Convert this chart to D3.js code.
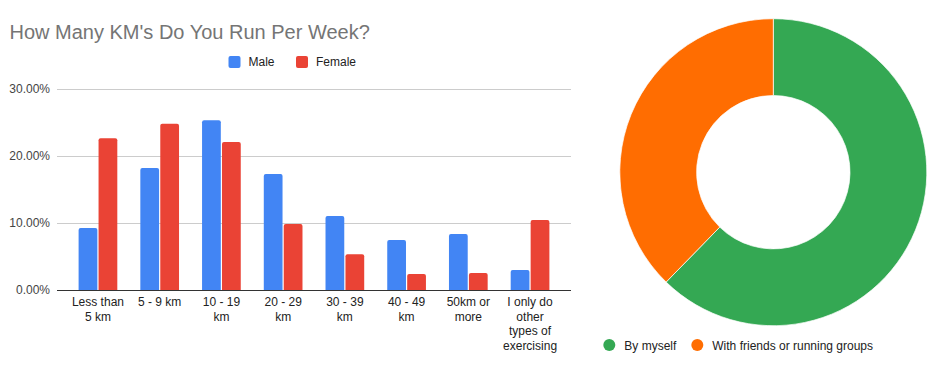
<!DOCTYPE html>
<html>
<head>
<meta charset="utf-8">
<script src="https://cdn.jsdelivr.net/npm/d3@7"></script>
<style>
  body { margin: 0; background: #fff; }
  svg { font-family: 'Liberation Sans', Arial, sans-serif; }
</style>
</head>
<body>
<svg width="935" height="371"></svg>
<script>
const categories = ['Less than 5 km', '5 - 9 km', '10 - 19 km', '20 - 29 km',
  '30 - 39 km', '40 - 49 km', '50km or more', 'I only do other types of exercising']
const series = ['Male', 'Female']
const male = [9.25, 18.2, 25.35, 17.3, 11.05, 7.45, 8.35, 3.0]
const female = [22.65, 24.8, 22.1, 9.85, 5.35, 2.4, 2.55, 10.45]
const yTicks = [0, 10, 20, 30]

const groups = ['By myself', 'With friends or running groups']
const groupValues = [62.3, 37.7]

const barColors = ['#4285f4', '#ea4335']
const pieColors = ['#34a853', '#ff6d01']

const svg = d3.select('svg')

drawBarChart()
drawDonut()

function drawBarChart () {
  const plot = { left: 57, right: 571, top: 89, bottom: 290 }

  svg.append('text')
    .attr('x', 9.5)
    .attr('y', 38.5)
    .attr('fill', '#757575')
    .attr('font-size', 20)
    .text("How Many KM's Do You Run Per Week?")

  const x = d3.scaleBand()
    .domain(categories)
    .range([plot.left, plot.right])
    .paddingInner(0.373)
    .paddingOuter(0.35)

  const xSub = d3.scaleBand()
    .domain(series)
    .range([0, x.bandwidth()])
    .paddingInner(0.06)

  const y = d3.scaleLinear()
    .domain([0, 30])
    .range([plot.bottom, plot.top])

  // grid + tick labels
  const yAxis = svg.append('g')
    .attr('transform', `translate(${plot.left},0)`)
    .call(d3.axisLeft(y)
      .tickValues(yTicks)
      .tickSize(-(plot.right - plot.left))
      .tickPadding(7)
      .tickFormat(d => d.toFixed(2) + '%'))
  yAxis.select('.domain').remove()
  yAxis.selectAll('line').attr('stroke', '#cccccc')
  yAxis.selectAll('text')
    .attr('fill', '#444')
    .attr('font-size', 12)
    .attr('font-family', "'Liberation Sans', Arial, sans-serif")

  const rows = categories.map((c, i) => ({ cat: c, values: [male[i], female[i]] }))

  const g = svg.append('g')
  g.selectAll('g.cat')
    .data(rows)
    .join('g')
      .attr('class', 'cat')
      .attr('transform', d => `translate(${x(d.cat)},0)`)
    .selectAll('path')
    .data(d => d.values.map((v, j) => ({ s: series[j], v, j })))
    .join('path')
      .attr('fill', d => barColors[d.j])
      .attr('d', d => roundedTop(xSub(d.s), y(d.v), xSub.bandwidth(), y(0) - y(d.v), 2))

  // baseline
  svg.append('line')
    .attr('x1', plot.left).attr('x2', plot.right)
    .attr('y1', plot.bottom + 0.5).attr('y2', plot.bottom + 0.5)
    .attr('stroke', '#333')

  // category labels
  const xAxis = svg.append('g')
    .attr('transform', `translate(0,${plot.bottom})`)
    .call(d3.axisBottom(x).tickSize(0).tickPadding(0))
  xAxis.select('.domain').remove()
  xAxis.selectAll('text')
    .attr('fill', '#222')
    .attr('font-size', 12)
    .attr('font-family', "'Liberation Sans', Arial, sans-serif")
    .attr('dy', null)
    .attr('y', 16)
    .call(wrap, 54)

  // legend
  const legend = svg.append('g')
  const lx = [228.5, 296]
  series.forEach((s, i) => {
    legend.append('rect')
      .attr('x', lx[i]).attr('y', 56)
      .attr('width', 12).attr('height', 12)
      .attr('rx', 2)
      .attr('fill', barColors[i])
    legend.append('text')
      .attr('x', lx[i] + 20).attr('y', 66)
      .attr('font-size', 12)
      .attr('fill', '#222')
      .text(s)
  })
}

function roundedTop (x0, y0, w, h, r) {
  r = Math.min(r, h, w / 2)
  return `M${x0},${y0 + h}V${y0 + r}Q${x0},${y0} ${x0 + r},${y0}` +
    `H${x0 + w - r}Q${x0 + w},${y0} ${x0 + w},${y0 + r}V${y0 + h}Z`
}

function wrap (texts, width) {
  texts.each(function () {
    const text = d3.select(this)
    const words = text.text().split(/\s+/)
    const y0 = +text.attr('y')
    text.text(null)
    let line = []
    let lineNo = 0
    let tspan = text.append('tspan').attr('x', 0).attr('y', y0)
    words.forEach(word => {
      line.push(word)
      tspan.text(line.join(' '))
      if (tspan.node().getComputedTextLength() > width && line.length > 1) {
        line.pop()
        tspan.text(line.join(' '))
        line = [word]
        lineNo++
        tspan = text.append('tspan')
          .attr('x', 0)
          .attr('y', y0 + lineNo * 14.5)
          .text(word)
      }
    })
  })
}

function drawDonut () {
  const cx = 773.3
  const cy = 172.2
  const outer = 153.5
  const inner = 76.7

  const pie = d3.pie().sort(null).value(d => d)
  const arc = d3.arc().innerRadius(inner).outerRadius(outer)

  svg.append('g')
    .attr('transform', `translate(${cx},${cy})`)
    .selectAll('path')
    .data(pie(groupValues))
    .join('path')
      .attr('d', arc)
      .attr('fill', (d, i) => pieColors[i])
      .attr('stroke', '#fff')
      .attr('stroke-width', 0.7)

  const lx = [609.3, 697.3]
  groups.forEach((name, i) => {
    svg.append('circle')
      .attr('cx', lx[i]).attr('cy', 345)
      .attr('r', 6)
      .attr('fill', pieColors[i])
    svg.append('text')
      .attr('x', lx[i] + 15).attr('y', 349.5)
      .attr('font-size', 12)
      .attr('fill', '#222')
      .text(name)
  })
}
</script>
</body>
</html>
